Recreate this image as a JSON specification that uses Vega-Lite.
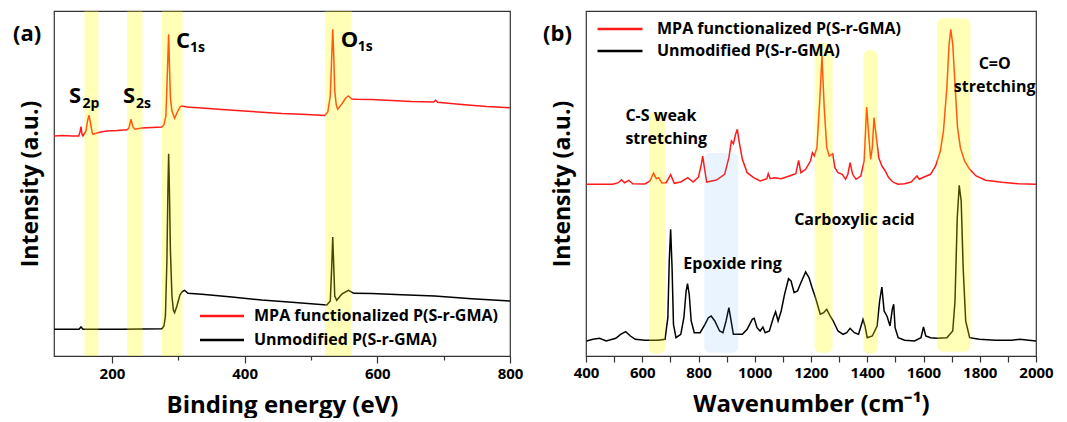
{
"$schema": "https://vega.github.io/schema/vega-lite/v6.json",
"padding": {"left": 12, "top": 10, "right": 10, "bottom": 0},
"background": "white",
"bounds": "flush",
"spacing": 76,
"config": {
  "font": "Open Sans",
  "view": {"stroke": "#333", "strokeWidth": 1.2},
  "axis": {"grid": false, "domain": false, "labelFont": "Open Sans", "labelFontWeight": "bold", "labelFontSize": 15, "labelColor": "#000", "labelOverlap": false, "labelFlush": false, "titleFont": "Open Sans", "titleFontWeight": "bold", "titleColor": "#000", "tickColor": "#333", "tickWidth": 1.2},
  "text": {"font": "Open Sans", "fontWeight": "bold", "color": "#000"}
},
"datasets": {
  "xps": [
    {"s":"MPA","x":112.6,"y":220},{"s":"MPA","x":125,"y":220.5},{"s":"MPA","x":140,"y":220},{"s":"MPA","x":150,"y":220},{"s":"MPA","x":151.8,"y":224},{"s":"MPA","x":153.3,"y":229.3},{"s":"MPA","x":154.8,"y":222},{"s":"MPA","x":156.3,"y":220},{"s":"MPA","x":160.8,"y":225},{"s":"MPA","x":163.1,"y":235},{"s":"MPA","x":165.4,"y":240.7},{"s":"MPA","x":167.6,"y":233},{"s":"MPA","x":169.9,"y":224},{"s":"MPA","x":171.4,"y":221.7},{"s":"MPA","x":177.4,"y":223},{"s":"MPA","x":184.9,"y":224.3},{"s":"MPA","x":192.5,"y":225},{"s":"MPA","x":207.5,"y":225.5},{"s":"MPA","x":222.6,"y":226.3},{"s":"MPA","x":225.6,"y":228},{"s":"MPA","x":228.6,"y":236.7},{"s":"MPA","x":231.6,"y":229},{"s":"MPA","x":234.6,"y":226.7},{"s":"MPA","x":245.2,"y":228},{"s":"MPA","x":260.2,"y":228.5},{"s":"MPA","x":275.3,"y":229},{"s":"MPA","x":278.3,"y":231},{"s":"MPA","x":281.3,"y":240},{"s":"MPA","x":283.6,"y":285},{"s":"MPA","x":285.4,"y":321.7},{"s":"MPA","x":286.9,"y":285},{"s":"MPA","x":288.1,"y":258},{"s":"MPA","x":290.4,"y":245},{"s":"MPA","x":294.4,"y":237.7},{"s":"MPA","x":297.9,"y":243},{"s":"MPA","x":302.4,"y":249},{"s":"MPA","x":305.4,"y":250},{"s":"MPA","x":313,"y":249},{"s":"MPA","x":335.5,"y":248},{"s":"MPA","x":365.7,"y":246.5},{"s":"MPA","x":410.8,"y":244.5},{"s":"MPA","x":456,"y":242.5},{"s":"MPA","x":486.1,"y":241.7},{"s":"MPA","x":520.8,"y":240.5},{"s":"MPA","x":525.3,"y":244},{"s":"MPA","x":529.1,"y":260},{"s":"MPA","x":531.3,"y":300},{"s":"MPA","x":532.8,"y":326.7},{"s":"MPA","x":534.3,"y":300},{"s":"MPA","x":535.8,"y":265},{"s":"MPA","x":538.1,"y":251},{"s":"MPA","x":540.3,"y":246.7},{"s":"MPA","x":546.4,"y":252},{"s":"MPA","x":552.4,"y":258},{"s":"MPA","x":556.4,"y":260},{"s":"MPA","x":561.4,"y":257},{"s":"MPA","x":569,"y":256.7},{"s":"MPA","x":591.6,"y":256.5},{"s":"MPA","x":621.7,"y":255.5},{"s":"MPA","x":651.8,"y":254.5},{"s":"MPA","x":685,"y":254},{"s":"MPA","x":688,"y":255.7},{"s":"MPA","x":691,"y":253.7},{"s":"MPA","x":727.1,"y":251.5},{"s":"MPA","x":764.7,"y":249.5},{"s":"MPA","x":800,"y":248.3},
    {"s":"Unmodified","x":112.6,"y":26.7},{"s":"Unmodified","x":150.3,"y":26.7},{"s":"Unmodified","x":153.3,"y":29},{"s":"Unmodified","x":156.3,"y":26.7},{"s":"Unmodified","x":215,"y":26.7},{"s":"Unmodified","x":275.3,"y":27.3},{"s":"Unmodified","x":278.3,"y":30},{"s":"Unmodified","x":280.6,"y":40},{"s":"Unmodified","x":282.8,"y":95},{"s":"Unmodified","x":284.3,"y":165},{"s":"Unmodified","x":285.4,"y":202.3},{"s":"Unmodified","x":286.6,"y":165},{"s":"Unmodified","x":288.1,"y":105},{"s":"Unmodified","x":290.4,"y":60},{"s":"Unmodified","x":292.5,"y":46},{"s":"Unmodified","x":294.4,"y":43.3},{"s":"Unmodified","x":297.9,"y":50},{"s":"Unmodified","x":302.4,"y":61},{"s":"Unmodified","x":306,"y":64.5},{"s":"Unmodified","x":309.5,"y":65.7},{"s":"Unmodified","x":314.5,"y":62.7},{"s":"Unmodified","x":335.5,"y":61.7},{"s":"Unmodified","x":380.7,"y":59},{"s":"Unmodified","x":425.9,"y":56},{"s":"Unmodified","x":471.1,"y":53.7},{"s":"Unmodified","x":523.8,"y":51},{"s":"Unmodified","x":529.1,"y":55},{"s":"Unmodified","x":531.3,"y":90},{"s":"Unmodified","x":532.8,"y":119},{"s":"Unmodified","x":534.3,"y":90},{"s":"Unmodified","x":535.8,"y":60},{"s":"Unmodified","x":538.8,"y":55.7},{"s":"Unmodified","x":546.4,"y":62},{"s":"Unmodified","x":556.4,"y":65.7},{"s":"Unmodified","x":564.5,"y":62.7},{"s":"Unmodified","x":591.6,"y":62.5},{"s":"Unmodified","x":636.7,"y":61.3},{"s":"Unmodified","x":686.4,"y":60},{"s":"Unmodified","x":742.2,"y":57.3},{"s":"Unmodified","x":800,"y":55}
  ],
  "ir": [
    {"s":"MPA","x":402,"y":171.7},{"s":"MPA","x":495,"y":171.7},{"s":"MPA","x":515,"y":173.3},{"s":"MPA","x":526,"y":176.3},{"s":"MPA","x":537,"y":173.3},{"s":"MPA","x":552,"y":175.7},{"s":"MPA","x":566,"y":172.3},{"s":"MPA","x":610,"y":172},{"s":"MPA","x":627,"y":175},{"s":"MPA","x":640,"y":182.7},{"s":"MPA","x":650,"y":177.3},{"s":"MPA","x":658,"y":178.3},{"s":"MPA","x":670,"y":173},{"s":"MPA","x":685,"y":173.3},{"s":"MPA","x":701,"y":181.3},{"s":"MPA","x":714,"y":172.7},{"s":"MPA","x":737,"y":174},{"s":"MPA","x":762,"y":178.3},{"s":"MPA","x":781,"y":174},{"s":"MPA","x":800,"y":179},{"s":"MPA","x":810,"y":191.7},{"s":"MPA","x":815,"y":200},{"s":"MPA","x":821,"y":188.3},{"s":"MPA","x":829,"y":174},{"s":"MPA","x":864,"y":176},{"s":"MPA","x":893,"y":181.7},{"s":"MPA","x":908,"y":198.3},{"s":"MPA","x":917,"y":215},{"s":"MPA","x":924,"y":212.3},{"s":"MPA","x":932,"y":221.7},{"s":"MPA","x":938,"y":226.7},{"s":"MPA","x":944,"y":215},{"s":"MPA","x":956,"y":196.7},{"s":"MPA","x":973,"y":183.3},{"s":"MPA","x":996,"y":178.3},{"s":"MPA","x":1019,"y":175},{"s":"MPA","x":1043,"y":177.3},{"s":"MPA","x":1048,"y":182.3},{"s":"MPA","x":1055,"y":177.3},{"s":"MPA","x":1071,"y":178.3},{"s":"MPA","x":1094,"y":177.3},{"s":"MPA","x":1123,"y":180},{"s":"MPA","x":1146,"y":182.3},{"s":"MPA","x":1156,"y":195.7},{"s":"MPA","x":1164,"y":183.3},{"s":"MPA","x":1181,"y":186.7},{"s":"MPA","x":1198,"y":195},{"s":"MPA","x":1205,"y":203.3},{"s":"MPA","x":1212,"y":200},{"s":"MPA","x":1221,"y":208.3},{"s":"MPA","x":1231,"y":255},{"s":"MPA","x":1239,"y":300},{"s":"MPA","x":1247,"y":248.3},{"s":"MPA","x":1256,"y":208.3},{"s":"MPA","x":1265,"y":200},{"s":"MPA","x":1277,"y":202.3},{"s":"MPA","x":1285,"y":188.3},{"s":"MPA","x":1296,"y":183.3},{"s":"MPA","x":1311,"y":181.7},{"s":"MPA","x":1323,"y":176.7},{"s":"MPA","x":1331,"y":181.7},{"s":"MPA","x":1339,"y":193.3},{"s":"MPA","x":1348,"y":181.7},{"s":"MPA","x":1360,"y":176.7},{"s":"MPA","x":1377,"y":180},{"s":"MPA","x":1389,"y":195},{"s":"MPA","x":1398,"y":249},{"s":"MPA","x":1405,"y":221.7},{"s":"MPA","x":1412,"y":196.7},{"s":"MPA","x":1418,"y":208.3},{"s":"MPA","x":1424,"y":238.3},{"s":"MPA","x":1431,"y":221.7},{"s":"MPA","x":1441,"y":198.3},{"s":"MPA","x":1452,"y":190},{"s":"MPA","x":1464,"y":185},{"s":"MPA","x":1475,"y":179},{"s":"MPA","x":1487,"y":175},{"s":"MPA","x":1496,"y":173.3},{"s":"MPA","x":1510,"y":171.7},{"s":"MPA","x":1533,"y":172.3},{"s":"MPA","x":1556,"y":174},{"s":"MPA","x":1577,"y":180},{"s":"MPA","x":1585,"y":176.7},{"s":"MPA","x":1602,"y":179},{"s":"MPA","x":1625,"y":181.7},{"s":"MPA","x":1643,"y":190},{"s":"MPA","x":1660,"y":205},{"s":"MPA","x":1671,"y":225},{"s":"MPA","x":1683,"y":268.3},{"s":"MPA","x":1691,"y":311.7},{"s":"MPA","x":1697,"y":326.7},{"s":"MPA","x":1704,"y":311.7},{"s":"MPA","x":1712,"y":271.7},{"s":"MPA","x":1721,"y":228.3},{"s":"MPA","x":1731,"y":208.3},{"s":"MPA","x":1746,"y":195},{"s":"MPA","x":1764,"y":186.7},{"s":"MPA","x":1787,"y":180},{"s":"MPA","x":1821,"y":175.7},{"s":"MPA","x":1879,"y":173.7},{"s":"MPA","x":1937,"y":172.3},{"s":"MPA","x":2000,"y":171.7},
    {"s":"Unmodified","x":402,"y":15},{"s":"Unmodified","x":425,"y":16.7},{"s":"Unmodified","x":448,"y":17.7},{"s":"Unmodified","x":472,"y":15},{"s":"Unmodified","x":506,"y":17.7},{"s":"Unmodified","x":523,"y":21.7},{"s":"Unmodified","x":541,"y":24.3},{"s":"Unmodified","x":558,"y":20},{"s":"Unmodified","x":575,"y":16.7},{"s":"Unmodified","x":610,"y":15.7},{"s":"Unmodified","x":656,"y":15.7},{"s":"Unmodified","x":681,"y":16.7},{"s":"Unmodified","x":691,"y":38.3},{"s":"Unmodified","x":696,"y":95},{"s":"Unmodified","x":701,"y":126.7},{"s":"Unmodified","x":706,"y":88.3},{"s":"Unmodified","x":711,"y":31.7},{"s":"Unmodified","x":720,"y":18.3},{"s":"Unmodified","x":737,"y":21.7},{"s":"Unmodified","x":748,"y":38.3},{"s":"Unmodified","x":756,"y":65},{"s":"Unmodified","x":761,"y":72.3},{"s":"Unmodified","x":767,"y":61.7},{"s":"Unmodified","x":774,"y":35},{"s":"Unmodified","x":785,"y":23.3},{"s":"Unmodified","x":806,"y":23.3},{"s":"Unmodified","x":823,"y":31.7},{"s":"Unmodified","x":835,"y":38.3},{"s":"Unmodified","x":845,"y":40},{"s":"Unmodified","x":858,"y":35},{"s":"Unmodified","x":875,"y":25},{"s":"Unmodified","x":887,"y":23.3},{"s":"Unmodified","x":898,"y":35},{"s":"Unmodified","x":908,"y":48.3},{"s":"Unmodified","x":915,"y":36.7},{"s":"Unmodified","x":924,"y":21.7},{"s":"Unmodified","x":939,"y":21.7},{"s":"Unmodified","x":956,"y":21.7},{"s":"Unmodified","x":973,"y":26.7},{"s":"Unmodified","x":991,"y":36.7},{"s":"Unmodified","x":998,"y":37.7},{"s":"Unmodified","x":1008,"y":28.3},{"s":"Unmodified","x":1019,"y":25},{"s":"Unmodified","x":1029,"y":29},{"s":"Unmodified","x":1037,"y":23.3},{"s":"Unmodified","x":1052,"y":25},{"s":"Unmodified","x":1066,"y":38.3},{"s":"Unmodified","x":1074,"y":44.3},{"s":"Unmodified","x":1083,"y":35},{"s":"Unmodified","x":1094,"y":45},{"s":"Unmodified","x":1106,"y":61.7},{"s":"Unmodified","x":1120,"y":77.3},{"s":"Unmodified","x":1129,"y":75},{"s":"Unmodified","x":1140,"y":63.3},{"s":"Unmodified","x":1152,"y":65},{"s":"Unmodified","x":1164,"y":73.3},{"s":"Unmodified","x":1181,"y":84},{"s":"Unmodified","x":1193,"y":78.3},{"s":"Unmodified","x":1204,"y":68.3},{"s":"Unmodified","x":1216,"y":58.3},{"s":"Unmodified","x":1233,"y":41.7},{"s":"Unmodified","x":1245,"y":43.3},{"s":"Unmodified","x":1256,"y":46.7},{"s":"Unmodified","x":1268,"y":40},{"s":"Unmodified","x":1279,"y":35},{"s":"Unmodified","x":1296,"y":25},{"s":"Unmodified","x":1314,"y":21.7},{"s":"Unmodified","x":1327,"y":23.3},{"s":"Unmodified","x":1339,"y":27.7},{"s":"Unmodified","x":1354,"y":23.3},{"s":"Unmodified","x":1369,"y":21.7},{"s":"Unmodified","x":1378,"y":30},{"s":"Unmodified","x":1385,"y":36.7},{"s":"Unmodified","x":1392,"y":30},{"s":"Unmodified","x":1400,"y":18.3},{"s":"Unmodified","x":1418,"y":20},{"s":"Unmodified","x":1435,"y":30},{"s":"Unmodified","x":1444,"y":55},{"s":"Unmodified","x":1452,"y":69},{"s":"Unmodified","x":1460,"y":45},{"s":"Unmodified","x":1470,"y":40},{"s":"Unmodified","x":1481,"y":30},{"s":"Unmodified","x":1489,"y":46.7},{"s":"Unmodified","x":1494,"y":51.7},{"s":"Unmodified","x":1499,"y":28.3},{"s":"Unmodified","x":1510,"y":18.3},{"s":"Unmodified","x":1533,"y":15.7},{"s":"Unmodified","x":1568,"y":15},{"s":"Unmodified","x":1591,"y":18.3},{"s":"Unmodified","x":1600,"y":29},{"s":"Unmodified","x":1608,"y":20},{"s":"Unmodified","x":1625,"y":18.3},{"s":"Unmodified","x":1648,"y":17.7},{"s":"Unmodified","x":1683,"y":18.3},{"s":"Unmodified","x":1704,"y":25},{"s":"Unmodified","x":1712,"y":55},{"s":"Unmodified","x":1720,"y":138.3},{"s":"Unmodified","x":1727,"y":170.7},{"s":"Unmodified","x":1734,"y":155},{"s":"Unmodified","x":1741,"y":88.3},{"s":"Unmodified","x":1750,"y":35},{"s":"Unmodified","x":1764,"y":18.3},{"s":"Unmodified","x":1798,"y":16.7},{"s":"Unmodified","x":1856,"y":15.7},{"s":"Unmodified","x":1913,"y":15.7},{"s":"Unmodified","x":1942,"y":16.7},{"s":"Unmodified","x":2000,"y":15}
  ],
  "bandsA": [
    {"x":158.5,"x2":179.5,"y":0,"y2":345},{"x":223,"x2":246,"y":0,"y2":345},{"x":275.3,"x2":306.4,"y":0,"y2":345},{"x":521,"x2":561.4,"y":0,"y2":345}
  ],
  "bandsBYellow": [
    {"x":624,"x2":681,"y":2.3,"y2":244},{"x":1213,"x2":1277,"y":3.3,"y2":313},{"x":1386,"x2":1437,"y":2.3,"y2":305.7},{"x":1648,"x2":1767,"y":4.3,"y2":337.7}
  ],
  "bandsBBlue": [
    {"x":821,"x2":941,"y":3.3,"y2":203}
  ],
  "annAMain": [
    {"label":"S","x":135.2,"y":253},{"label":"S","x":216.6,"y":253},{"label":"C","x":296.4,"y":308},{"label":"O","x":544.9,"y":309}
  ],
  "annASub": [
    {"label":"2p","x":155.5,"y":248},{"label":"2s","x":236.1,"y":248},{"label":"1s","x":317.5,"y":304},{"label":"1s","x":570.5,"y":305}
  ],
  "panelA": [{"label":"(a)","x":72,"y":322}],
  "panelB": [{"label":"(b)","x":298.6,"y":322.5}],
  "annBLeft": [
    {"label":"C-S weak","x":540,"y":235},{"label":"stretching","x":540,"y":211.7},{"label":"Epoxide ring","x":746,"y":86.7},{"label":"Carboxylic acid","x":1140,"y":131}
  ],
  "annBCenter": [
    {"label":"C=O","x":1853,"y":286.7},{"label":"stretching","x":1853,"y":264.3}
  ]
},
"hconcat": [
  {
    "width": 456, "height": 345,
    "encoding": {
      "x": {"field":"x","type":"quantitative","scale":{"domain":[112.6,800],"nice":false,"zero":false},
        "axis":{"values":[200,300,400,500,600,700,800],"labelExpr":"datum.value % 200 === 0 ? format(datum.value, 'd') : ''","tickSize":{"condition":{"test":"datum.value % 200 === 0","value":7},"value":4},"labelPadding":3,"title":"Binding energy (eV)","titleFontSize":24,"titlePadding":12}},
      "y": {"field":"y","type":"quantitative","scale":{"domain":[0,345],"nice":false,"zero":false},
        "axis":{"labels":false,"ticks":false,"title":"Intensity (a.u.)","titleFontSize":23,"titlePadding":12}}
    },
    "layer": [
      {"data":{"name":"xps"},"mark":{"type":"line","strokeWidth":1.5},
       "encoding":{"color":{"field":"s","type":"nominal","scale":{"domain":["MPA","Unmodified"],"range":["#ff1a1a","#000000"]},
         "legend":{"orient":"none","legendX":160,"legendY":297,"title":null,"symbolType":"M-4.4,0H4.4","symbolSize":100,"symbolStrokeWidth":2.5,"labelFont":"Open Sans","labelFontWeight":"bold","labelFontSize":16,"labelColor":"#000","labelOffset":24,"labelLimit":400,"rowPadding":8,"labelExpr":"datum.label === 'MPA' ? 'MPA functionalized P(S-r-GMA)' : 'Unmodified P(S-r-GMA)'"}}}},
      {"data":{"name":"bandsA"},"mark":{"type":"rect","color":"#ffff00","opacity":0.28},"encoding":{"x2":{"field":"x2"},"y2":{"field":"y2"}}},
      {"data":{"name":"annAMain"},"mark":{"type":"text","fontSize":22,"align":"left","baseline":"alphabetic"},"encoding":{"text":{"field":"label"}}},
      {"data":{"name":"annASub"},"mark":{"type":"text","fontSize":14,"align":"left","baseline":"alphabetic"},"encoding":{"text":{"field":"label"}}},
      {"data":{"name":"panelA"},"mark":{"type":"text","fontSize":22,"align":"center","baseline":"middle"},"encoding":{"text":{"field":"label"}}}
    ]
  },
  {
    "width": 450, "height": 345,
    "encoding": {
      "x": {"field":"x","type":"quantitative","scale":{"domain":[400,2000],"nice":false,"zero":false},
        "axis":{"values":[400,500,600,700,800,900,1000,1100,1200,1300,1400,1500,1600,1700,1800,1900,2000],"labelExpr":"datum.value % 200 === 0 ? format(datum.value, 'd') : ''","tickSize":6,"labelPadding":3,"title":"Wavenumber (cm⁻¹)","titleFontSize":24,"titlePadding":12}},
      "y": {"field":"y","type":"quantitative","scale":{"domain":[0,345],"nice":false,"zero":false},
        "axis":{"labels":false,"ticks":false,"title":"Intensity (a.u.)","titleFontSize":23,"titlePadding":12}}
    },
    "layer": [
      {"data":{"name":"ir"},"mark":{"type":"line","strokeWidth":1.5},
       "encoding":{"color":{"field":"s","type":"nominal","scale":{"domain":["MPA","Unmodified"],"range":["#ff1a1a","#000000"]},
         "legend":{"orient":"none","legendX":26,"legendY":10,"title":null,"symbolType":"M-4.5,0H4.5","symbolSize":100,"symbolStrokeWidth":2.5,"labelFont":"Open Sans","labelFontWeight":"bold","labelFontSize":16,"labelColor":"#000","labelOffset":29,"labelLimit":400,"rowPadding":6,"labelExpr":"datum.label === 'MPA' ? 'MPA functionalized P(S-r-GMA)' : 'Unmodified P(S-r-GMA)'"}}}},
      {"data":{"name":"bandsBBlue"},"mark":{"type":"rect","color":"#4da6ff","opacity":0.12,"cornerRadius":6},"encoding":{"x2":{"field":"x2"},"y2":{"field":"y2"}}},
      {"data":{"name":"bandsBYellow"},"mark":{"type":"rect","color":"#ffff00","opacity":0.28,"cornerRadius":6},"encoding":{"x2":{"field":"x2"},"y2":{"field":"y2"}}},
      {"data":{"name":"annBLeft"},"mark":{"type":"text","fontSize":16,"align":"left","baseline":"alphabetic"},"encoding":{"text":{"field":"label"}}},
      {"data":{"name":"annBCenter"},"mark":{"type":"text","fontSize":16,"align":"center","baseline":"alphabetic"},"encoding":{"text":{"field":"label"}}},
      {"data":{"name":"panelB"},"mark":{"type":"text","fontSize":22,"align":"center","baseline":"middle"},"encoding":{"text":{"field":"label"}}}
    ]
  }
],
"resolve": {"scale": {"color": "independent"}}
}
